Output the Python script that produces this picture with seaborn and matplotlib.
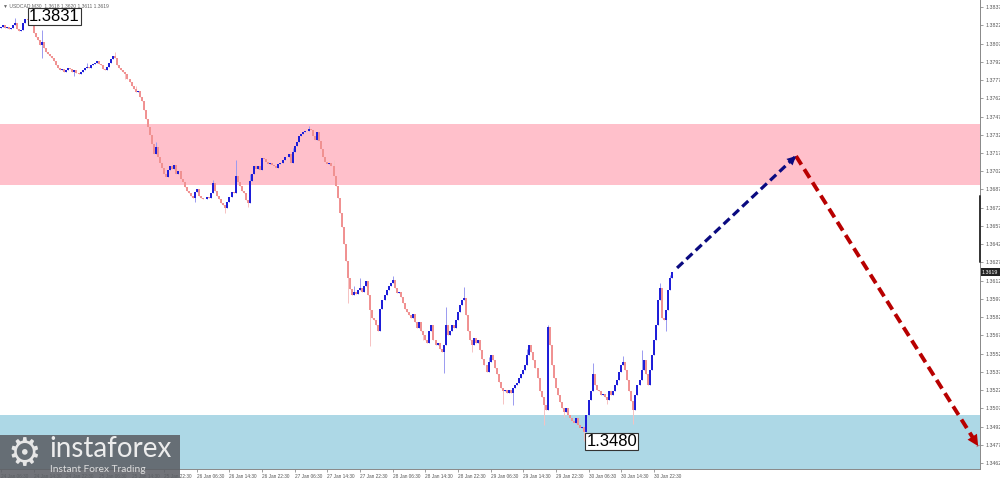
import numpy as np
import pandas as pd
import matplotlib
matplotlib.use("Agg")
import matplotlib.pyplot as plt
import seaborn as sns
from matplotlib.patches import Rectangle

sns.set_theme(style="white")
plt.rcParams["font.family"] = ["Liberation Sans", "DejaVu Sans"]

# ---- data (prices in pips above 1.3000, M30 bars) ----
first_open = 820
closes = [
    821, 822, 820, 821, 819, 820, 822, 824, 819, 817,
    818, 824, 827, 826, 825, 822, 816, 812, 810, 806,
    808, 803, 800, 798, 797, 795, 793, 789, 787, 785,
    786, 784, 785, 787, 786, 784, 785, 783, 782, 784,
    785, 787, 788, 787, 789, 790, 791, 793, 790, 789,
    786, 785, 788, 791, 794, 797, 795, 789, 787, 785,
    784, 782, 778, 775, 772, 770, 767, 768, 763, 760,
    752, 745, 738, 732, 724, 716, 722, 714, 709, 705,
    700, 697, 703, 706, 704, 707, 700, 702, 696, 693,
    689, 686, 684, 682, 680, 685, 687, 682, 680, 679,
    679, 681, 680, 684, 692, 686, 682, 679, 676, 674,
    672, 677, 681, 685, 684, 698, 693, 690, 686, 684,
    678, 676, 694, 700, 706, 704, 706, 703, 713, 712,
    710, 708, 709, 707, 706, 705, 708, 709, 711, 714,
    714, 716, 709, 718, 723, 726, 731, 733, 734, 735,
    735, 737, 736, 731, 728, 734, 727, 720, 714, 710,
    708, 709, 706, 698, 690, 680, 668, 656, 642, 628,
    614, 605, 600, 603, 601, 604, 606, 603, 608, 612,
    600, 588, 581, 580, 576, 571, 589, 596, 600, 604,
    608, 610, 613, 606, 602, 603, 599, 594, 589, 586,
    584, 581, 585, 578, 573, 578, 571, 567, 563, 561,
    571, 576, 563, 559, 561, 556, 553, 559, 576, 567,
    571, 576, 573, 580, 586, 592, 596, 598, 584, 571,
    563, 559, 565, 561, 563, 555, 548, 543, 537, 545,
    551, 547, 540, 535, 529, 524, 521, 522, 520, 522,
    520, 524, 526, 528, 532, 535, 539, 543, 551, 559,
    553, 547, 540, 532, 521, 516, 510, 506, 574, 559,
    543, 532, 524, 518, 512, 507, 504, 507, 502, 499,
    497, 495, 499, 493, 491, 492, 488, 502, 514, 521,
    535, 526, 522, 521, 518, 519, 516, 514, 521, 518,
    521, 526, 530, 537, 543, 545, 539, 530, 521, 513,
    506, 518, 526, 530, 539, 547, 535, 526, 539, 551,
    563, 576, 596, 606, 581, 580, 588, 604, 614, 619, 619,
]
# notable wicks (bar index -> pips)
wick_highs = {7: 828, 13: 831, 20: 818, 42: 791, 56: 800, 66: 772, 76: 726,
              84: 710, 104: 695, 115: 711, 122: 700, 143: 721, 151: 739,
              163: 711, 173: 608, 176: 614, 192: 616, 218: 590, 227: 607,
              239: 549, 258: 556, 268: 576, 272: 530, 290: 544, 305: 550,
              314: 555, 323: 610, 328: 617}
wick_lows = {20: 795, 36: 780, 61: 778, 95: 677, 110: 668, 121: 673, 170: 594,
             181: 558, 207: 563, 217: 536, 231: 553, 246: 511, 251: 510,
             266: 493, 276: 500, 286: 480, 297: 511, 310: 494, 326: 571}

start_time = "2025-01-24 06:30"
time_step = "30min"

zone_sell = [1.3691, 1.3741]   # pink resistance zone
zone_buy = [1.3440, 1.3502]    # blue support zone

forecast_idx = [331.4, 389.7, 479.0]
forecast_price = [1.36225, 1.37145, 1.3476]

mark_labels = ["1.3831", "1.3480"]
mark_idx = [13.8, 286.9]
mark_price = [1.3829, 1.3480]

ytick_labels = ["1.3837", "1.3822", "1.3807", "1.3792", "1.3777", "1.3762",
                "1.3747", "1.3732", "1.3717", "1.3702", "1.3687", "1.3672",
                "1.3657", "1.3642", "1.3627", "1.3612", "1.3597", "1.3582",
                "1.3567", "1.3552", "1.3537", "1.3522", "1.3507", "1.3492",
                "1.3477", "1.3462"]
header = "\u25bc USDCAD,M30  1.3618 1.3620 1.3611 1.3619"
last_price = "1.3619"

# ---- build OHLC ----
c = 1.3 + np.array(closes) / 10000
o = np.r_[1.3 + first_open / 10000, c[:-1]]
h = np.maximum(o, c)
l = np.minimum(o, c)
for k, v in wick_highs.items():
    h[k] = max(h[k], 1.3 + v / 10000)
for k, v in wick_lows.items():
    l[k] = min(l[k], 1.3 + v / 10000)
idx = np.arange(len(c))
times = pd.date_range(start_time, periods=len(c), freq=time_step)
df = pd.DataFrame({"idx": idx, "open": o, "high": h, "low": l, "close": c, "time": times})
up = df["close"] >= df["open"]

# ---- figure ----
fig = plt.figure(figsize=(10, 4.8), dpi=100)
fig.patch.set_facecolor("white")
ax = fig.add_axes([0.0, 11 / 480, 0.98, 469 / 480])
ax.set_facecolor("white")

ax.axhspan(zone_sell[0], zone_sell[1], color="#ffc0cb", zorder=0, lw=0)
ax.axhspan(zone_buy[0], zone_buy[1], color="#add8e6", zorder=0, lw=0)

# wicks then bodies
ax.vlines(df.loc[up, "idx"], df.loc[up, "low"], df.loc[up, "high"], color="#9a9af0", lw=0.7, zorder=2)
ax.vlines(df.loc[~up, "idx"], df.loc[~up, "low"], df.loc[~up, "high"], color="#f6c2c2", lw=0.7, zorder=2)
ax.vlines(df.loc[up, "idx"], df.loc[up, "open"], df.loc[up, "close"], color="#1a1ad8", lw=1.4, zorder=3)
ax.vlines(df.loc[~up, "idx"], df.loc[~up, "close"], df.loc[~up, "open"], color="#f09090", lw=1.4, zorder=3)

# forecast arrows
fc = pd.DataFrame({"x": forecast_idx, "y": forecast_price})
sns.lineplot(data=fc.iloc[0:2], x="x", y="y", ax=ax, color="#0a0a80", lw=2.3,
             dashes=False, sort=False, estimator=None, zorder=5, legend=False)
sns.lineplot(data=fc.iloc[1:3], x="x", y="y", ax=ax, color="#b80000", lw=2.8,
             dashes=False, sort=False, estimator=None, zorder=5, legend=False)
ax.lines[-2].set_dashes((2.6, 1.4))
ax.lines[-1].set_dashes((2.6, 1.4))
for (a, b, col, ms) in [(0, 1, "#0a0a80", 16), (1, 2, "#b80000", 20)]:
    x0, y0, x1, y1 = forecast_idx[a], forecast_price[a], forecast_idx[b], forecast_price[b]
    ax.annotate("", xy=(x1, y1), xytext=(x1 - 0.12 * (x1 - x0), y1 - 0.12 * (y1 - y0)),
                arrowprops=dict(arrowstyle="-|>", color=col, lw=0, mutation_scale=ms,
                                shrinkA=0, shrinkB=0), zorder=6, annotation_clip=False)

# price marks
for t, xi, yi in zip(mark_labels, mark_idx, mark_price):
    ax.text(xi, yi, t, fontsize=12, ha="left", va="center", color="black", zorder=7,
            bbox=dict(boxstyle="square,pad=0.07", fc="white", ec="#333333", lw=0.8))

# axes
ax.set_xlim(-0.5, 479.9)
ax.set_ylim(1.34572, 1.38428)
ax.yaxis.tick_right()
ax.set_yticks([float(s) for s in ytick_labels])
ax.set_yticklabels(ytick_labels)
xt = idx[::16]
ax.set_xticks(xt)
ax.set_xticklabels([t.strftime("%d Jan %H:%M").lstrip("0") for t in times[::16]])
for lab in ax.get_xticklabels():
    lab.set_ha("left")
ax.tick_params(axis="y", labelsize=3.8, labelcolor="#555555", length=2, width=0.5,
               color="#777777", pad=2, right=True)
ax.tick_params(axis="x", labelsize=3.4, labelcolor="#555555", length=2, width=0.5,
               color="#777777", pad=1.5, bottom=True)
for s in ["top", "left"]:
    ax.spines[s].set_visible(False)
for s in ["right", "bottom"]:
    ax.spines[s].set_color("#888888")
    ax.spines[s].set_linewidth(0.7)
ax.set_xlabel("")
ax.set_ylabel("")

# current price marker on the price scale
ax.plot([1, 1], [1.3682, 1.3627], transform=ax.get_yaxis_transform(), color="#333333",
        lw=1.4, clip_on=False, zorder=8)
ax.text(1.002, float(last_price), last_price, transform=ax.get_yaxis_transform(),
        fontsize=3.8, color="white", va="center", ha="left", zorder=9,
        bbox=dict(boxstyle="square,pad=0.25", fc="#222222", ec="none"))

# header
fig.text(0.003, 0.993, header, fontsize=3.6, color="#666666", ha="left", va="top")

# logo
fig.patches.append(Rectangle((0, 2 / 480), 180 / 1000, 43 / 480, transform=fig.transFigure,
                             facecolor="#5d6066", alpha=0.88, edgecolor="none", zorder=10))
fig.text(0.024, 0.053, "\u2699", fontsize=27, color="#e6e6e6", ha="center", va="center",
         family=["DejaVu Sans"], zorder=11)
fig.text(0.049, 0.065, "instaforex", fontsize=20, color="#ececec", ha="left", va="center",
         family=["Lato", "DejaVu Sans"], zorder=11)
fig.text(0.050, 0.022, "Instant Forex Trading", fontsize=7.3, color="#e0e0e0", ha="left",
         va="center", family=["Lato", "DejaVu Sans"], zorder=11)

fig.savefig("out.png", dpi=100)
